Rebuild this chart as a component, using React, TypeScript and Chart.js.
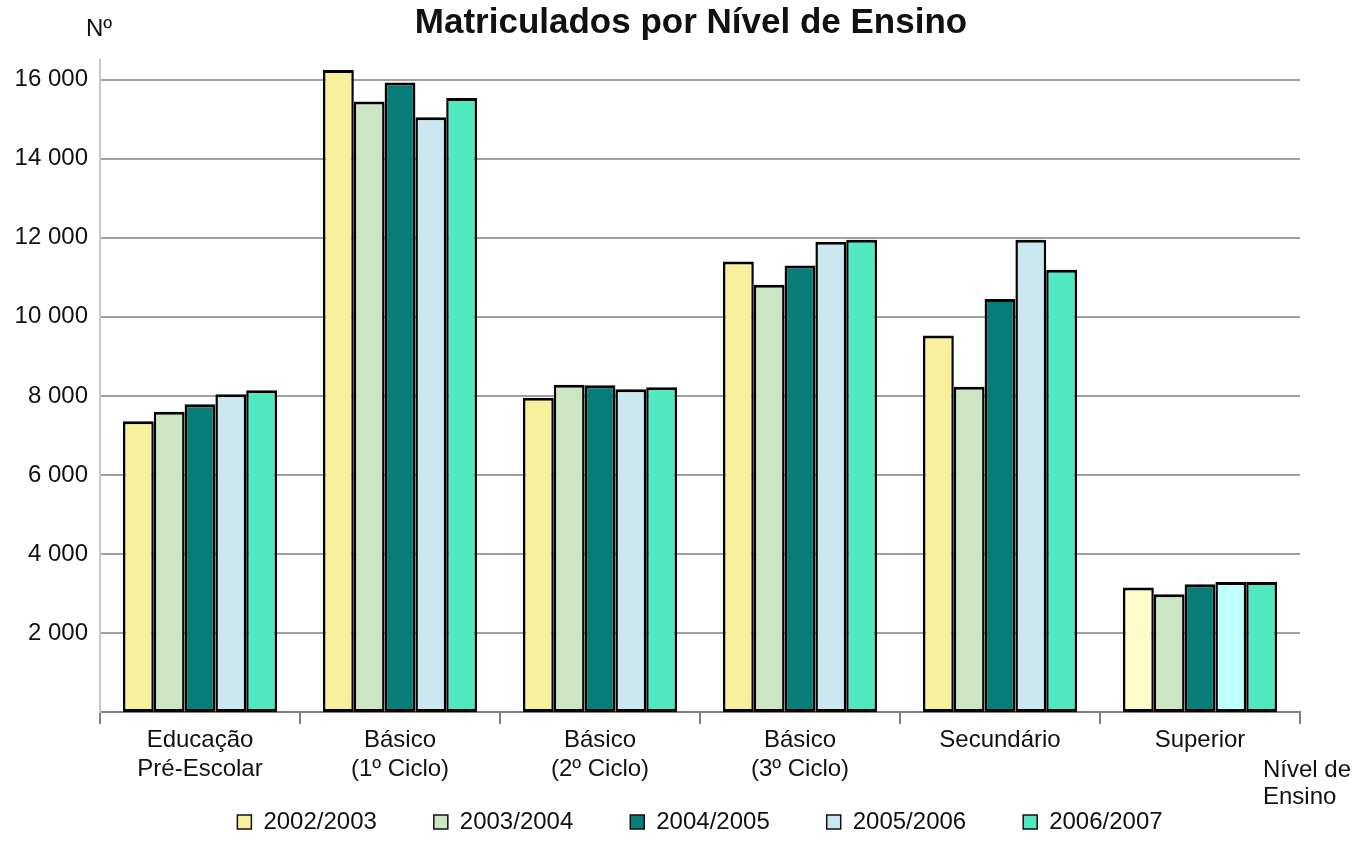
import React, { useEffect, useRef } from 'react';
import { Chart, registerables } from 'chart.js';

Chart.register(...registerables);

const FONT = '"Liberation Sans", Arial, sans-serif';

const titleText = 'Matriculados por Nível de Ensino';
const yAxisTitle = 'Nº';
const xAxisTitle = ['Nível de', 'Ensino'];

const categories: (string | string[])[] = [
  ['Educação', 'Pré-Escolar'],
  ['Básico', '(1º Ciclo)'],
  ['Básico', '(2º Ciclo)'],
  ['Básico', '(3º Ciclo)'],
  'Secundário',
  'Superior',
];

const seriesNames = ['2002/2003', '2003/2004', '2004/2005', '2005/2006', '2006/2007'];

const s2002 = [7360, 16250, 7950, 11400, 9530, 3150];
const s2003 = [7600, 15450, 8280, 10810, 8230, 2980];
const s2004 = [7790, 15930, 8270, 11300, 10450, 3230];
const s2005 = [8040, 15050, 8170, 11900, 11950, 3290];
const s2006 = [8140, 15540, 8220, 11950, 11190, 3290];

const yTickValues = [2000, 4000, 6000, 8000, 10000, 12000, 14000, 16000];
const yTickLabels = ['2 000', '4 000', '6 000', '8 000', '10 000', '12 000', '14 000', '16 000'];

const seriesColors = ['#f8ef9b', '#cce6c4', '#067d79', '#cbe8f0', '#50e9c1'];
const lastCategoryColors = ['#fffccb', '#cce6c4', '#067d79', '#c0ffff', '#50e9c1'];

export default function App() {
  const ref = useRef<HTMLCanvasElement | null>(null);

  useEffect(() => {
    if (!ref.current) return;
    const allSeries = [s2002, s2003, s2004, s2005, s2006];

    const extraText = {
      id: 'extraText',
      afterLayout(chart: any) {
        // let the multi-line category labels extend below the axis box
        const xs = chart.scales.x;
        if (xs) xs.bottom = chart.height;
        if (chart.legend) {
          chart.legend.top += 3;
          chart.legend.bottom += 3;
        }
      },
      afterDraw(chart: any) {
        const c = chart.ctx;
        c.save();
        c.fillStyle = '#111';
        c.textBaseline = 'alphabetic';
        c.font = `bold 35px ${FONT}`;
        c.textAlign = 'center';
        c.fillText(titleText, 691, 33);
        c.font = `24px ${FONT}`;
        c.textAlign = 'left';
        c.fillText(yAxisTitle, 86, 36);
        c.fillText(xAxisTitle[0], 1263, 777);
        c.fillText(xAxisTitle[1], 1263, 804);
        c.restore();
      },
    };

    const chart = new Chart(ref.current, {
      type: 'bar',
      data: {
        labels: categories as any,
        datasets: allSeries.map((d, i) => ({
          label: seriesNames[i],
          data: d,
          backgroundColor: (ctx: any) =>
            ctx.dataIndex === categories.length - 1 ? lastCategoryColors[i] : seriesColors[i],
          borderColor: '#000',
          borderWidth: { top: 3, left: 2.5, right: 2.5, bottom: 3 },
          borderSkipped: false,
          categoryPercentage: 0.77,
          barPercentage: 1.0,
        })),
      },
      plugins: [extraText],
      options: {
        responsive: false,
        animation: false,
        layout: { padding: { left: 8, right: 57, top: 60, bottom: 0 } },
        font: { family: FONT },
        plugins: {
          title: { display: false },
          tooltip: { enabled: false },
          legend: {
            position: 'bottom',
            fullSize: false,
            labels: {
              font: { family: FONT, size: 24 },
              color: '#111',
              boxWidth: 14,
              boxHeight: 14,
              padding: 57,
              generateLabels(chart: any) {
                const items = Chart.defaults.plugins.legend.labels.generateLabels(chart);
                return items.map((it: any, i: number) => ({
                  ...it,
                  fillStyle: seriesColors[i],
                  strokeStyle: '#111',
                  lineWidth: 1.5,
                }));
              },
            },
          },
        },
        scales: {
          x: {
            grid: {
              offset: true,
              drawOnChartArea: false,
              drawTicks: true,
              tickLength: 12,
              color: '#808080',
              lineWidth: 2,
            },
            border: { color: '#808080', width: 2 },
            ticks: {
              font: { family: FONT, size: 24, lineHeight: 1.2 },
              color: '#111',
              padding: 2,
              maxRotation: 0,
              autoSkip: false,
            },
            afterFit(scale: any) {
              scale.height = 38;
            },
          },
          y: {
            min: 0,
            max: 16500,
            grid: { color: '#a0a0a0', lineWidth: 2, drawTicks: false },
            border: { color: '#c8c8c8', width: 2 },
            ticks: {
              font: { family: FONT, size: 24 },
              color: '#111',
              padding: 12,
              callback: (v: any) => {
                const idx = yTickValues.indexOf(Number(v));
                return idx >= 0 ? yTickLabels[idx] : '';
              },
            },
            afterBuildTicks(scale: any) {
              scale.ticks = yTickValues.map((v) => ({ value: v }));
            },
            afterFit(scale: any) {
              scale.width = 92;
            },
          },
        },
      } as any,
    });
    return () => chart.destroy();
  }, []);

  return (
    <div style={{ position: 'absolute', left: 0, top: 0, width: 1357, height: 841, background: '#fff' }}>
      <canvas ref={ref} width={1357} height={841} />
    </div>
  );
}
